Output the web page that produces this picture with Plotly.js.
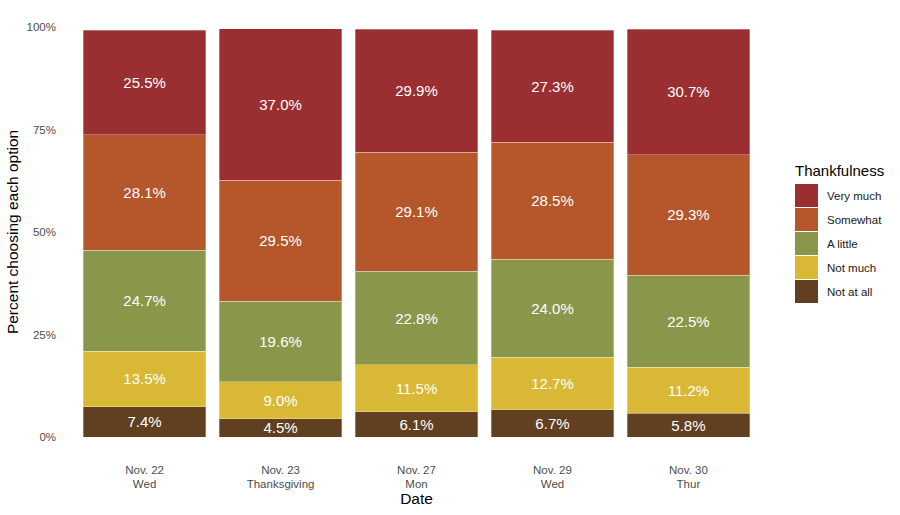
<!DOCTYPE html>
<html>
<head>
<meta charset="utf-8">
<script src="https://cdn.plot.ly/plotly-3.0.1.min.js"></script>
<style>html,body{margin:0;padding:0;background:#fff;}#chart{width:900px;height:515px;}</style>
</head>
<body>
<div id="chart"></div>
<script>
// ---- data ----
const dates = ["Nov. 22<br>Wed", "Nov. 23<br>Thanksgiving", "Nov. 27<br>Mon", "Nov. 29<br>Wed", "Nov. 30<br>Thur"];
const notAtAll = [7.4, 4.5, 6.1, 6.7, 5.8];
const notMuch  = [13.5, 9.0, 11.5, 12.7, 11.2];
const aLittle  = [24.7, 19.6, 22.8, 24.0, 22.5];
const somewhat = [28.1, 29.5, 29.1, 28.5, 29.3];
const veryMuch = [25.5, 37.0, 29.9, 27.3, 30.7];
const yTicks = [0, 25, 50, 75, 100];

const series = [
  {name: "Not at all", values: notAtAll, color: "#613F21"},
  {name: "Not much",   values: notMuch,  color: "#D8B834"},
  {name: "A little",   values: aLittle,  color: "#8A964A"},
  {name: "Somewhat",   values: somewhat, color: "#B5562B"},
  {name: "Very much",  values: veryMuch, color: "#9B2E31"}
];

// ---- layout geometry ----
const L = 63, R = 130, T = 27, B = 78, WIDTH = 900, HEIGHT = 515;
const PW = WIDTH - L - R, PH = HEIGHT - T - B;
const px2x = p => (p - L) / PW;
const py2y = p => (HEIGHT - B - p) / PH;
const FONT = "Liberation Sans, Arial, Helvetica, sans-serif";
const GREY = "#4d4d4d";

const traces = series.map(s => ({
  type: "bar",
  name: s.name,
  x: dates,
  y: s.values,
  text: s.values.map(v => v.toFixed(1) + "%"),
  textposition: "inside",
  insidetextanchor: "middle",
  textangle: 0,
  constraintext: "none",
  textfont: {color: "#ffffff", size: 15, family: FONT},
  marker: {color: s.color, line: {color: "rgba(255,255,255,0.6)", width: 0.5}},
  hoverinfo: "skip",
  showlegend: false
}));

// custom legend (ggplot-style large keys), top item = "Very much"
const legendItems = series.slice().reverse();
const shapes = [];
const annotations = [];
annotations.push({
  xref: "paper", yref: "paper", x: px2x(793), y: py2y(170),
  xanchor: "left", yanchor: "middle", showarrow: false,
  text: "Thankfulness", font: {size: 15, color: "#000000", family: FONT}
});
legendItems.forEach((s, i) => {
  const top = 184 + i * 24;
  shapes.push({
    type: "rect", xref: "paper", yref: "paper",
    x0: px2x(795), x1: px2x(818), y0: py2y(top + 23), y1: py2y(top),
    fillcolor: s.color, line: {width: 0}
  });
  annotations.push({
    xref: "paper", yref: "paper", x: px2x(825), y: py2y(top + 11.5),
    xanchor: "left", yanchor: "middle", showarrow: false,
    text: s.name, font: {size: 11.5, color: "#1a1a1a", family: FONT}
  });
});

const layout = {
  width: WIDTH, height: HEIGHT,
  margin: {l: L, r: R, t: T, b: B, pad: 0, autoexpand: false},
  paper_bgcolor: "#ffffff", plot_bgcolor: "#ffffff",
  barmode: "stack",
  bargap: 0.1,
  font: {family: FONT, color: GREY},
  xaxis: {
    type: "category",
    range: [-0.6, 4.6],
    color: GREY,
    showgrid: false, zeroline: false, showline: false, ticks: "",
    ticklabelstandoff: 24,
    tickfont: {size: 11.5, color: GREY, family: FONT},
    title: {text: "Date", font: {size: 15.5, color: "#000000", family: FONT}, standoff: 1},
    automargin: true,
    fixedrange: true
  },
  yaxis: {
    range: [0, 100],
    color: GREY,
    tickmode: "array",
    tickvals: yTicks,
    ticktext: yTicks.map(v => v + "%"),
    showgrid: false, zeroline: false, showline: false, ticks: "",
    ticklabelstandoff: 6,
    tickfont: {size: 11.5, color: GREY, family: FONT},
    title: {text: "Percent choosing each option", font: {size: 15.5, color: "#000000", family: FONT}, standoff: 4},
    automargin: true,
    fixedrange: true
  },
  shapes: shapes,
  annotations: annotations,
  showlegend: false
};

Plotly.newPlot("chart", traces, layout, {displayModeBar: false, staticPlot: true});
</script>
</body>
</html>
